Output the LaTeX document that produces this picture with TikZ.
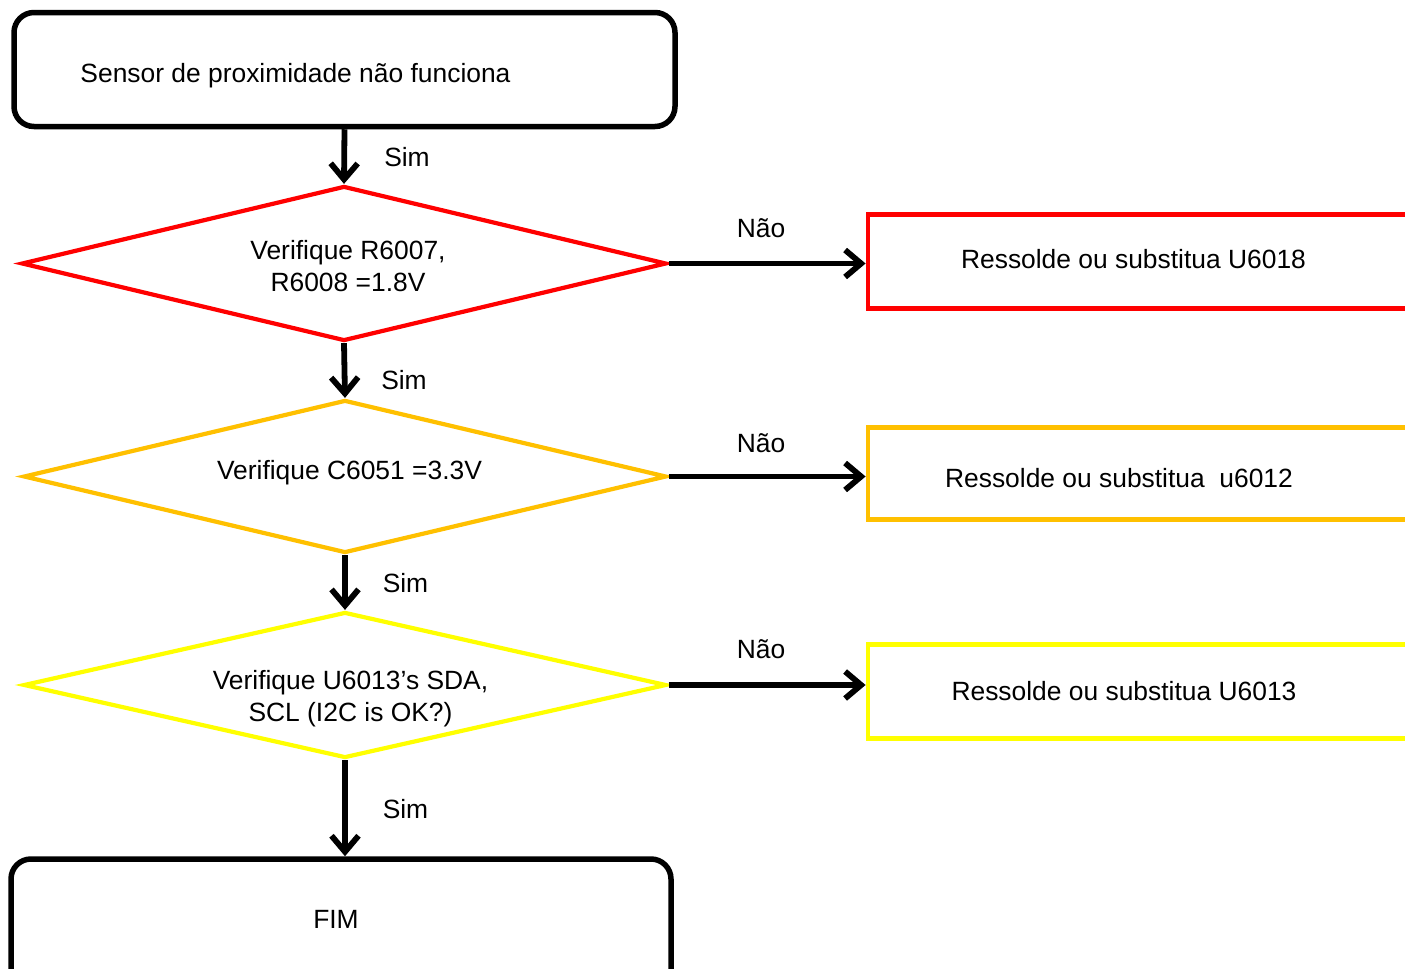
\documentclass[tikz,border=0pt]{standalone}
\usepackage{fontspec}
\setmainfont{Liberation Sans}
\usetikzlibrary{shapes.geometric,arrows.meta}
\definecolor{cred}{HTML}{FF0000}
\definecolor{corange}{HTML}{FFC000}
\definecolor{cyellow}{HTML}{FFFF00}
\begin{document}
\begin{tikzpicture}[x=0.5pt,y=-0.5pt,
  txt/.style={font=\fontsize{13.2pt}{15.75pt}\selectfont, inner sep=0pt, align=center},
  endbox/.style={draw=black, line width=2.75pt, rounded corners=10pt, inner sep=0pt},
  decbox/.style={diamond, draw=#1, line width=2.1pt, inner sep=0pt, aspect=4.2},
  fixbox/.style={rectangle, draw=#1, line width=2.4pt, inner sep=0pt, minimum width=290.75pt},
  arr/.style={draw=black, line width=2.9pt, -{Straight Barb[length=8pt,width=13.5pt]}}]
\useasboundingbox (0,0) rectangle (1405,969);
\clip (0,0) rectangle (1405,969);
\fill[white] (0,0) rectangle (1405,969);

% start box
\node[endbox, minimum width=330.5pt, minimum height=57pt] (start) at (344.5,69.5) {};
\node[txt, anchor=base] (starttxt) at (295.5,83) {Sensor de proximidade não funciona};

% decisions
\node[decbox=cred, minimum width=322.5pt, minimum height=77.5pt] (d1) at (344,263.5) {};
\node[txt] (d1txt) at (348,266.3) {Verifique R6007,\\R6008 =1.8V};

\node[decbox=corange, minimum width=321.5pt, minimum height=76.5pt] (d2) at (345,476.5) {};
\node[txt, anchor=base] (d2txt) at (349.5,479) {Verifique C6051 =3.3V};

\node[decbox=cyellow, minimum width=321.5pt, minimum height=73pt] (d3) at (345,685) {};
\node[txt] (d3txt) at (350.5,698.6) {Verifique U6013’s SDA,\\SCL (I2C is OK?)};

% fix boxes
\node[fixbox=cred, minimum height=47pt] (b1) at (1158.75,261.5) {};
\node[txt, anchor=base] (b1txt) at (1133.5,268) {Ressolde ou substitua U6018};

\node[fixbox=corange, minimum height=46pt] (b2) at (1158.75,473.5) {};
\node[txt, anchor=base] (b2txt) at (1119,487) {Ressolde ou substitua~ u6012};

\node[fixbox=cyellow, minimum height=47pt] (b3) at (1158.75,691.5) {};
\node[txt, anchor=base] (b3txt) at (1124,700) {Ressolde ou substitua U6013};

% end box
\node[endbox, minimum width=330pt, minimum height=71pt] (fim) at (341,930) {};
\node[txt, anchor=base] (fimtxt) at (336,928) {FIM};

% vertical arrows
\draw[arr] (start.south) -- (d1.north);
\draw[arr] (d1.south) -- (d2.north);
\draw[arr] (d2.south) -- (d3.north);
\draw[arr] (d3.south) -- (d3.south |- fim.north);

% horizontal arrows
\draw[arr] (d1.east) -- (d1.east -| b1.west);
\draw[arr] (d2.east) -- (d2.east -| b2.west);
\draw[arr] (d3.east) -- (d3.east -| b3.west);

% labels
\node[txt, anchor=base] (s1) at (407,166) {Sim};
\node[txt, anchor=base] (s2) at (404,389) {Sim};
\node[txt, anchor=base] (s3) at (405.5,592) {Sim};
\node[txt, anchor=base] (s4) at (405.5,818) {Sim};
\node[txt, anchor=base] (n1) at (761,237) {Não};
\node[txt, anchor=base] (n2) at (761,452) {Não};
\node[txt, anchor=base] (n3) at (761,658) {Não};
\end{tikzpicture}
\end{document}
